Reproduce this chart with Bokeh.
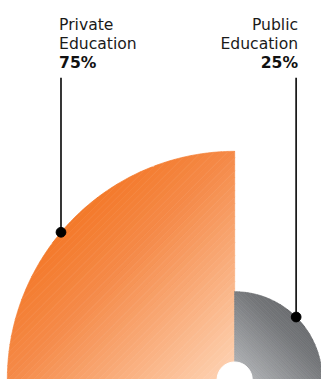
import numpy as np
from bokeh.plotting import figure
from bokeh.models import Range1d
from bokeh.core.properties import value
from bokeh.embed import file_html
from bokeh.resources import INLINE

# ---- data ----
categories = ["Private Education", "Public Education"]
shares = [75, 25]
pct_labels = ["75%", "25%"]

# ---- layout (reference pixel units, y up from the bottom edge) ----
W, H = 329, 387
FW, FH = 321, 379
S = FW / W
CX, CY = 240.0, 0.0
HOLE = 18.0
SCALE = (233.0 - HOLE) / 75.0
spans = [(90.0, 180.0), (0.0, 90.0)]
label_x = [60.0, 305.0]
label_align = ["left", "right"]
leader_x = [62.0, 303.0]
LINE_TOP = H - 79
FONT = "DejaVu Sans"

orange_stops = [(0.0, (240, 104, 20)), (0.25, (243, 117, 35)), (0.5, (245, 138, 72)),
                (1.0, (254, 214, 184))]
gray_stops = [(0.0, (95, 97, 100)), (0.3, (105, 107, 110)), (0.45, (116, 118, 121)),
              (0.85, (166, 168, 171)), (1.0, (188, 190, 193))]


def interp(stops, t):
    t = min(max(t, 0.0), 1.0)
    for (t0, c0), (t1, c1) in zip(stops[:-1], stops[1:]):
        if t <= t1:
            f = (t - t0) / (t1 - t0) if t1 > t0 else 0
            c = [int(round(a + (b - a) * f)) for a, b in zip(c0, c1)]
            return "#%02x%02x%02x" % tuple(c)
    return "#%02x%02x%02x" % stops[-1][1]


def clip(poly, a, b, c):
    out = []
    n = len(poly)
    for i in range(n):
        p, q = poly[i], poly[(i + 1) % n]
        fp = a * p[0] + b * p[1] - c
        fq = a * q[0] + b * q[1] - c
        if fp <= 0:
            out.append(p)
        if (fp <= 0) != (fq <= 0):
            r = fp / (fp - fq)
            out.append((p[0] + (q[0] - p[0]) * r, p[1] + (q[1] - p[1]) * r))
    return out


p = figure(width=FW, height=FH, output_backend="svg", toolbar_location=None,
           x_range=Range1d(0, W), y_range=Range1d(0, H), min_border=0,
           background_fill_color="white", border_fill_color="white")
p.axis.visible = False
p.grid.visible = False
p.outline_line_color = None

N = 70
for k, (cat, v) in enumerate(zip(categories, shares)):
    R = HOLE + SCALE * v
    a0, a1 = np.radians(spans[k])
    angs = np.linspace(a0, a1, 120)
    poly = [(CX, CY)] + [(CX + R * np.cos(a), CY + R * np.sin(a)) for a in angs]
    xs, ys, cols = [], [], []
    if k == 0:
        s0, s1 = (CX - R) - (CY + R), CX - CY
        for i in range(N):
            lo = s0 + (s1 - s0) * i / N
            hi = s0 + (s1 - s0) * (i + 1) / N
            pc = clip(poly, -1, 1, -lo)
            pc = clip(pc, 1, -1, hi)
            if len(pc) < 3:
                continue
            xs.append([q[0] for q in pc]); ys.append([q[1] for q in pc])
            cols.append(interp(orange_stops, (i + 0.5) / N))
    else:
        u0, u1 = (CX + R) + (CY + R), CX + CY
        for i in range(N):
            hi = u0 + (u1 - u0) * i / N
            lo = u0 + (u1 - u0) * (i + 1) / N
            pc = clip(poly, 1, 1, hi)
            pc = clip(pc, -1, -1, -lo)
            if len(pc) < 3:
                continue
            xs.append([q[0] for q in pc]); ys.append([q[1] for q in pc])
            cols.append(interp(gray_stops, (i + 0.5) / N))
    p.patches(xs, ys, fill_color=cols, line_color=cols, line_width=0.7)

# centre hole
p.circle(x=[CX], y=[CY], radius=HOLE, fill_color="white", line_color="white")

# leaders + dots
dot_x, dot_y = [], []
for k, v in enumerate(shares):
    R = HOLE + SCALE * v
    lx = leader_x[k]
    ly = CY + np.sqrt(max(R * R - (lx - CX) ** 2, 0))
    p.segment(x0=[lx], y0=[LINE_TOP], x1=[lx], y1=[ly], line_color="#1a1a1a", line_width=1.8 * S)
    dot_x.append(lx); dot_y.append(ly)
p.scatter(dot_x, dot_y, size=10 * S, fill_color="black", line_color="black")

# labels
for k, cat in enumerate(categories):
    words = cat.split(" ")
    base = [H - 25, H - 44.5]
    p.text(x=[label_x[k]] * 2, y=base, text=words, text_font=value(FONT),
           text_font_size=f"{16 * S:.1f}px", text_color="#1a1a1a", text_align=label_align[k],
           text_baseline="alphabetic")
    p.text(x=[label_x[k]], y=[H - 64], text=[pct_labels[k]], text_font=value(FONT),
           text_font_size=f"{16 * S:.1f}px", text_font_style="bold", text_color="#111111",
           text_align=label_align[k], text_baseline="alphabetic")

open("out.html", "w").write(file_html(p, INLINE))
